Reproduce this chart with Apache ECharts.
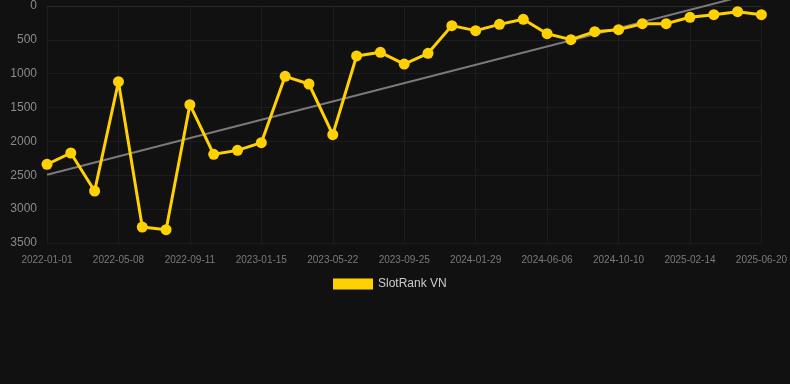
<!DOCTYPE html>
<html>
<head>
<meta charset="utf-8">
<script src="https://cdn.jsdelivr.net/npm/echarts@6/dist/echarts.min.js"></script>
<style>
  html, body { margin: 0; padding: 0; background: #111111; }
  #chart { width: 790px; height: 384px; }
</style>
</head>
<body>
<div id="chart"></div>
<script>
var dates = [
    '2022-01-01', '2022-02-12', '2022-03-27', '2022-05-08', '2022-06-19', '2022-07-31',
    '2022-09-11', '2022-10-23', '2022-12-04', '2023-01-15', '2023-02-26', '2023-04-09',
    '2023-05-22', '2023-07-03', '2023-08-14', '2023-09-25', '2023-11-06', '2023-12-18',
    '2024-01-29', '2024-03-12', '2024-04-24', '2024-06-06', '2024-07-18', '2024-08-29',
    '2024-10-10', '2024-11-21', '2025-01-02', '2025-02-14', '2025-03-28', '2025-05-09',
    '2025-06-20'
];

var ranks = [
    2338, 2171, 2732, 1118, 3264, 3304,
    1457, 2190, 2132, 2018, 1039, 1152,
    1900, 738, 684, 857, 699, 290,
    364, 271, 197, 409, 497, 379,
    349, 261, 261, 167, 128, 84,
    128
];

// trend line read at first and last date
var trendEnds = [2492, -214];

var yTicks = { min: 0, max: 3500, step: 500 };

var chart = echarts.init(document.getElementById('chart'), null, { renderer: 'canvas' });

var option = {
    backgroundColor: '#111111',
    animation: false,
    grid: {
        left: 47,
        right: 28,
        top: 6,
        bottom: 141,
        containLabel: false
    },
    legend: {
        data: ['SlotRank VN'],
        top: 273,
        left: 328,
        icon: 'rect',
        itemWidth: 40,
        itemHeight: 11,
        itemGap: 10,
        textStyle: {
            color: '#cccccc',
            fontSize: 12,
            fontFamily: 'Arial'
        }
    },
    xAxis: {
        type: 'category',
        data: dates,
        boundaryGap: false,
        axisLine: { show: true, lineStyle: { color: '#282828' } },
        axisTick: { show: false },
        axisLabel: {
            interval: 2,
            color: '#7a7a7a',
            fontSize: 10,
            fontFamily: 'Arial',
            margin: 12
        },
        splitLine: {
            show: true,
            interval: 2,
            lineStyle: { color: '#1d1d1d', width: 1 }
        }
    },
    yAxis: {
        type: 'value',
        inverse: true,
        min: yTicks.min,
        max: yTicks.max,
        interval: yTicks.step,
        axisLine: { show: false },
        axisTick: { show: false },
        axisLabel: {
            color: '#8a8a8a',
            fontSize: 12,
            fontFamily: 'Arial',
            margin: 10,
            formatter: function (v) { return String(v); }
        },
        splitLine: {
            lineStyle: { color: '#1d1d1d', width: 1 }
        }
    },
    series: [
        {
            name: 'trend',
            type: 'line',
            clip: false,
            silent: true,
            symbol: 'none',
            data: [[dates[0], trendEnds[0]], [dates[dates.length - 1], trendEnds[1]]],
            lineStyle: { color: '#7a7a7a', width: 2 },
            z: 1
        },
        {
            name: 'SlotRank VN',
            type: 'line',
            data: ranks,
            symbol: 'circle',
            symbolSize: 11,
            lineStyle: { color: '#FFD100', width: 3 },
            itemStyle: { color: '#FFD100' },
            z: 3
        }
    ]
};

chart.setOption(option);
</script>
</body>
</html>
